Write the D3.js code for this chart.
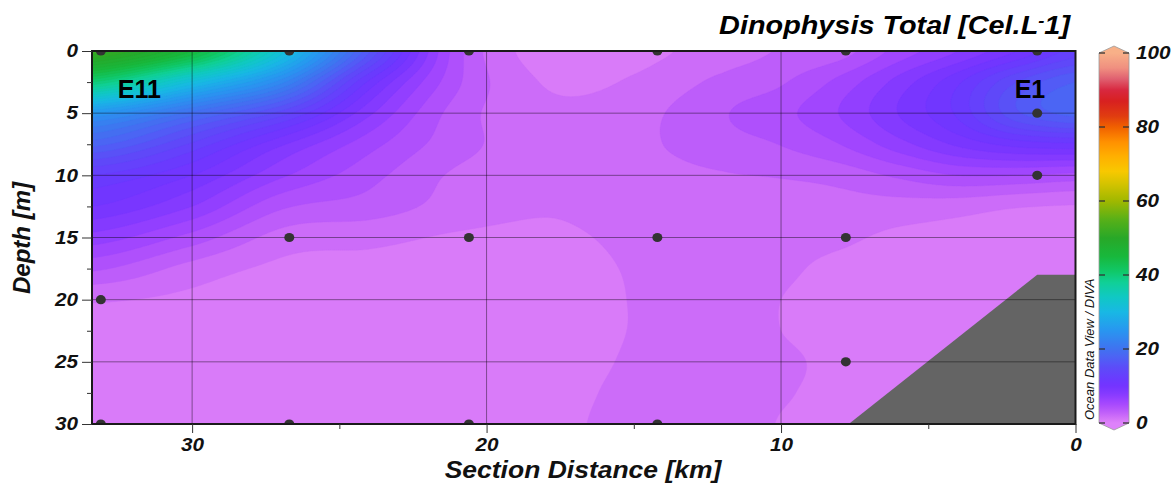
<!DOCTYPE html>
<html>
<head>
<meta charset="utf-8">
<script src="https://cdn.jsdelivr.net/npm/d3@7"></script>
<style>
  body { margin: 0; background: #fff; }
  svg { display: block; }
  text { font-family: "Liberation Sans", Arial, sans-serif; }
</style>
</head>
<body>
<svg id="chart" width="1174" height="484"></svg>
<script>
// ---- Gridded section field (Cel.L-1): rows = depth, columns = section distance ----
const gridKm = [33.4, 30, 27, 24, 21, 18, 15, 12, 10, 8, 6, 4, 2, 0];
const gridDepth = [0, 2.5, 5, 7.5, 10, 12.5, 15, 17.5, 20, 22.5, 25, 27.5, 30];
const gridValues = [
  [52, 45, 32, 16.5, 4.3, 0.6, 0.85, 1.8, 2.6, 3.2, 5.5, 7.5, 10, 13],
  [40, 31, 23, 11, 4.0, 1.15, 1.4, 2.8, 3.6, 5.4, 8, 11, 15, 17.5],
  [25, 19.5, 14.5, 7.8, 3.2, 1.6, 2.0, 3.6, 4.6, 6.3, 8.8, 11.5, 16, 18],
  [18, 13.5, 9, 5.5, 3.0, 1.8, 2.2, 3.2, 3.8, 5.0, 7, 9, 10.5, 11],
  [12.5, 10, 6.5, 4.2, 2.3, 1.8, 2.0, 2.4, 2.6, 3.0, 4.0, 5.0, 5.0, 4.6],
  [10, 7.5, 4.0, 3.2, 2.0, 1.4, 1.8, 1.9, 1.8, 2.0, 2.0, 1.8, 1.35, 1.15],
  [7, 4.5, 2.0, 1.6, 1.1, 1.0, 1.5, 1.8, 1.6, 1.45, 1.0, 0.8, 0.7, 0.7],
  [4, 2.0, 1.0, 0.9, 0.8, 0.8, 1.35, 1.9, 1.45, 1.0, 0.8, 0.7, 0.7, 0.7],
  [1.4, 1.0, 0.8, 0.7, 0.7, 0.7, 1.3, 1.9, 1.25, 0.9, 0.7, 0.7, 0.7, 0.7],
  [0.9, 0.8, 0.7, 0.7, 0.7, 0.7, 1.3, 1.9, 1.25, 0.9, 0.7, 0.7, 0.7, 0.7],
  [0.8, 0.7, 0.7, 0.7, 0.7, 0.7, 1.4, 1.9, 1.45, 1.0, 0.7, 0.7, 0.7, 0.7],
  [0.8, 0.7, 0.7, 0.7, 0.7, 0.8, 1.55, 1.85, 1.35, 1.0, 0.7, 0.7, 0.7, 0.7],
  [0.8, 0.7, 0.7, 0.7, 0.7, 0.9, 1.65, 1.8, 1.2, 1.0, 0.7, 0.7, 0.7, 0.7]
];

// ---- Stations and sample depths ----
const stationKm = [33.1, 26.7, 20.6, 14.2, 7.8, 1.3];
const stationDepths = [[0, 20, 30], [0, 15, 30], [0, 15, 30], [0, 15, 30], [0, 15, 25], [0, 5, 10]];
const stationLabels = [{ name: "E11", km: 33.1 }, { name: "E1", km: 1.3 }];

// ---- Sea floor ----
const bottomKm = [7.7, 1.3, 0];
const bottomDepth = [30, 18, 18];

// ---- Ticks ----
const xTicks = [30, 20, 10, 0];
const xMinorTicks = [25, 15, 5];
const yTicks = [0, 5, 10, 15, 20, 25, 30];
const yMinorTicks = [2.5, 7.5, 12.5, 17.5, 22.5, 27.5];
const colorTicks = [0, 20, 40, 60, 80, 100];

// ---- Colour palette ----
const paletteValues = [0, 1.25, 2.5, 3.75, 5, 6.25, 7.5, 8.75, 10, 11.5, 15, 18, 20, 25, 30, 34, 38, 41, 45, 50, 55, 60, 65, 68, 72, 76, 80, 83, 87, 90, 93, 96, 100];
const paletteColors = ["#de82fa", "#d374f8", "#c464f9", "#b656fb", "#a84afd", "#9a42ff", "#8a3cff", "#7e38ff", "#7434ff", "#6c38ff", "#5c4cf8", "#4c64f4", "#4072f0", "#2896f0", "#18b8e4", "#10c8c4", "#10d096", "#10c868", "#18b83c", "#28a828", "#58b018", "#a0b800", "#d8c400", "#f8c800", "#ffb000", "#ff9000", "#f06000", "#e03c10", "#d82020", "#d82840", "#e06070", "#f09080", "#f8b088"];

const plot = { left: 92, right: 1075.5, top: 51, bottom: 424 };
const pw = plot.right - plot.left, ph = plot.bottom - plot.top;
const labelStretch = 1.15;   // labels are drawn slightly wide

const x = d3.scaleLinear().domain([33.4, 0]).range([plot.left, plot.right]);
const y = d3.scaleLinear().domain([0, 30]).range([plot.top, plot.bottom]);
const color = d3.scaleLinear().domain(paletteValues).range(paletteColors)
  .interpolate(d3.interpolateRgb).clamp(true);

const svg = d3.select("#chart");
svg.append("rect").attr("width", 1174).attr("height", 484).attr("fill", "#fff");

const defs = svg.append("defs");
defs.append("clipPath").attr("id", "plotClip").append("rect")
  .attr("x", plot.left).attr("y", plot.top).attr("width", pw).attr("height", ph);

// ---- Bicubic (Catmull-Rom) sampling of the gridded field ----
const kmIdx = d3.scaleLinear().domain(gridKm).range(d3.range(gridKm.length)).clamp(true);
const depIdx = d3.scaleLinear().domain(gridDepth).range(d3.range(gridDepth.length)).clamp(true);
const nR = gridDepth.length, nC = gridKm.length;
function at(r, c) {
  r = Math.max(0, Math.min(nR - 1, r));
  c = Math.max(0, Math.min(nC - 1, c));
  return gridValues[r][c];
}
function cr(p0, p1, p2, p3, t) {
  return 0.5 * (2 * p1 + (-p0 + p2) * t + (2 * p0 - 5 * p1 + 4 * p2 - p3) * t * t + (-p0 + 3 * p1 - 3 * p2 + p3) * t * t * t);
}
function field(km, dep) {
  const fx = kmIdx(km), fy = depIdx(dep);
  const c = Math.min(Math.floor(fx), nC - 2), r = Math.min(Math.floor(fy), nR - 2);
  const tx = fx - c, ty = fy - r;
  const rows = [-1, 0, 1, 2].map(dr => cr(at(r + dr, c - 1), at(r + dr, c), at(r + dr, c + 1), at(r + dr, c + 2), tx));
  return cr(rows[0], rows[1], rows[2], rows[3], ty);
}

const nx = 492, ny = 187;
const values = new Float64Array(nx * ny);
for (let j = 0; j < ny; j++) {
  const dep = y.invert(plot.top + (j + 0.5) * ph / ny);
  for (let i = 0; i < nx; i++) {
    const km = x.invert(plot.left + (i + 0.5) * pw / nx);
    values[j * nx + i] = Math.max(0.01, field(km, dep));
  }
}

const step = 1.25;
const thresholds = d3.range(0, 100 + 1e-9, step);
const contours = d3.contours().size([nx, ny]).thresholds(thresholds)(values);
const proj = d3.geoTransform({
  point(px, py) { this.stream.point(plot.left + px * pw / nx, plot.top + py * ph / ny); }
});
const path = d3.geoPath(proj);

const plotG = svg.append("g").attr("clip-path", "url(#plotClip)");
plotG.append("g").selectAll("path").data(contours).join("path")
  .attr("d", path)
  .attr("fill", d => color(d.value + step / 2))
  .attr("stroke", d => color(d.value + step / 2))
  .attr("stroke-width", 0.3);

// sea floor
const floorPts = bottomKm.map((k, i) => [x(k), y(bottomDepth[i])]);
floorPts.push([x(0), y(30)]);
plotG.append("polygon")
  .attr("points", floorPts.map(p => p.join(",")).join(" "))
  .attr("fill", "#646464");

// grid lines
plotG.append("g").selectAll("line").data(xTicks.filter(d => d > 0)).join("line")
  .attr("x1", d => x(d)).attr("x2", d => x(d))
  .attr("y1", plot.top).attr("y2", plot.bottom)
  .attr("stroke", "rgba(0,0,0,0.42)").attr("stroke-width", 1);
plotG.append("g").selectAll("line").data(yTicks.filter(d => d > 0 && d < 30)).join("line")
  .attr("x1", plot.left).attr("x2", plot.right)
  .attr("y1", d => y(d)).attr("y2", d => y(d))
  .attr("stroke", "rgba(0,0,0,0.42)").attr("stroke-width", 1);

// sample positions
const samples = stationKm.flatMap((k, i) => stationDepths[i].map(dp => ({ km: k, depth: dp })));
plotG.append("g").selectAll("ellipse").data(samples).join("ellipse")
  .attr("cx", d => x(d.km)).attr("cy", d => y(d.depth))
  .attr("rx", 5).attr("ry", 4.6).attr("fill", "#333");

// station names
svg.append("text").attr("x", x(stationLabels[0].km) + 17).attr("y", 98)
  .attr("font-size", 25).attr("font-weight", "bold").attr("fill", "#000")
  .text(stationLabels[0].name);
svg.append("text").attr("x", x(stationLabels[1].km) + 8).attr("y", 98)
  .attr("text-anchor", "end")
  .attr("font-size", 25).attr("font-weight", "bold").attr("fill", "#000")
  .text(stationLabels[1].name);

// frame
svg.append("rect").attr("x", plot.left).attr("y", plot.top).attr("width", pw).attr("height", ph)
  .attr("fill", "none").attr("stroke", "#1a1a1a").attr("stroke-width", 2);

// ---- Axes ----
function styleAxis(g) {
  g.select(".domain").remove();
  g.selectAll(".tick line").attr("stroke", "#333");
  g.selectAll(".tick text").attr("font-size", 18).attr("font-weight", "bold")
    .attr("font-style", "italic").attr("fill", "#111")
    .attr("font-family", "'Liberation Sans', Arial, sans-serif");
}
svg.append("g").attr("transform", `translate(0,${plot.bottom})`)
  .call(d3.axisBottom(x).tickValues(xTicks).tickSize(9).tickPadding(5).tickFormat(d3.format("d")))
  .call(styleAxis)
  .call(g => g.selectAll(".tick text").attr("transform", `scale(${labelStretch},1)`));
svg.append("g").attr("transform", `translate(0,${plot.bottom})`)
  .call(d3.axisBottom(x).tickValues(xMinorTicks).tickSize(5).tickFormat(""))
  .call(styleAxis);
svg.append("g").attr("transform", `translate(${plot.left},0)`)
  .call(d3.axisLeft(y).tickValues(yTicks).tickSize(10).tickPadding(4).tickFormat(d3.format("d")))
  .call(styleAxis)
  .call(g => g.selectAll(".tick text").attr("x", -14 / labelStretch)
    .attr("transform", `scale(${labelStretch},1)`));
svg.append("g").attr("transform", `translate(${plot.left},0)`)
  .call(d3.axisLeft(y).tickValues(yMinorTicks).tickSize(5).tickFormat(""))
  .call(styleAxis);

// text stretched horizontally to a given width around an anchor
function fitted(parent, ax, ay, anchor, width, size) {
  const g = parent.append("g").attr("transform", `translate(${ax},${ay})`);
  const t = g.append("text").attr("text-anchor", anchor)
    .attr("font-size", size).attr("font-weight", "bold").attr("font-style", "italic").attr("fill", "#111");
  return { g, t, fit() { const w = t.node().getBBox().width; t.attr("transform", `scale(${width / w},1)`); } };
}

const xTitle = fitted(svg, 583, 478, "middle", 278, 24);
xTitle.t.text("Section Distance [km]");
xTitle.fit();

svg.append("text").attr("transform", "translate(30,238) rotate(-90)").attr("text-anchor", "middle")
  .attr("font-size", 24).attr("font-weight", "bold").attr("font-style", "italic").attr("fill", "#111")
  .text("Depth [m]");

// title
const title = fitted(svg, 1070, 34, "end", 353, 25);
title.t.attr("fill", "#000");
title.t.append("tspan").text("Dinophysis Total [Cel.L");
title.t.append("tspan").attr("dy", -8).attr("font-size", 16).text("-");
title.t.append("tspan").attr("dy", 8).text("1]");
title.fit();

// ---- Colour bar ----
const cb = { x0: 1099, x1: 1129, top: 53, bottom: 423 };
const cy = d3.scaleLinear().domain([0, 100]).range([cb.bottom, cb.top]);
const grad = defs.append("linearGradient").attr("id", "cbGrad")
  .attr("x1", 0).attr("y1", 1).attr("x2", 0).attr("y2", 0);
grad.selectAll("stop").data(d3.range(0, 100.01, 1)).join("stop")
  .attr("offset", d => d / 100).attr("stop-color", d => color(d));
const cbG = svg.append("g");
cbG.append("rect").attr("x", cb.x0).attr("y", cb.top).attr("width", cb.x1 - cb.x0)
  .attr("height", cb.bottom - cb.top).attr("fill", "url(#cbGrad)");
const midX = (cb.x0 + cb.x1) / 2;
cbG.append("polygon")
  .attr("points", `${cb.x0},${cb.top} ${midX},${cb.top - 7} ${cb.x1},${cb.top}`)
  .attr("fill", color(100));
cbG.append("polygon")
  .attr("points", `${cb.x0},${cb.bottom} ${midX},${cb.bottom + 7} ${cb.x1},${cb.bottom}`)
  .attr("fill", color(0));
cbG.append("path")
  .attr("d", `M${cb.x0},${cb.top} L${midX},${cb.top - 7} L${cb.x1},${cb.top} L${cb.x1},${cb.bottom} L${midX},${cb.bottom + 7} L${cb.x0},${cb.bottom} Z`)
  .attr("fill", "none").attr("stroke", "#9a9a9a").attr("stroke-width", 0.8);
cbG.selectAll("line.l").data(colorTicks).join("line").attr("class", "l")
  .attr("x1", cb.x0).attr("x2", cb.x0 + 6).attr("y1", d => cy(d)).attr("y2", d => cy(d))
  .attr("stroke", "#333").attr("stroke-width", 1.3);
cbG.selectAll("line.r").data(colorTicks).join("line").attr("class", "r")
  .attr("x1", cb.x1 - 6).attr("x2", cb.x1).attr("y1", d => cy(d)).attr("y2", d => cy(d))
  .attr("stroke", "#333").attr("stroke-width", 1.3);
cbG.selectAll("text").data(colorTicks).join("text")
  .attr("x", 1136 / labelStretch).attr("y", d => cy(d)).attr("dy", "0.36em")
  .attr("transform", `scale(${labelStretch},1)`)
  .attr("font-size", 18).attr("font-weight", "bold").attr("font-style", "italic").attr("fill", "#111")
  .text(d => d);

svg.append("text").attr("transform", "translate(1094,420) rotate(-90)")
  .attr("font-size", 13).attr("font-style", "italic").attr("fill", "#111")
  .text("Ocean Data View / DIVA");
</script>
</body>
</html>
